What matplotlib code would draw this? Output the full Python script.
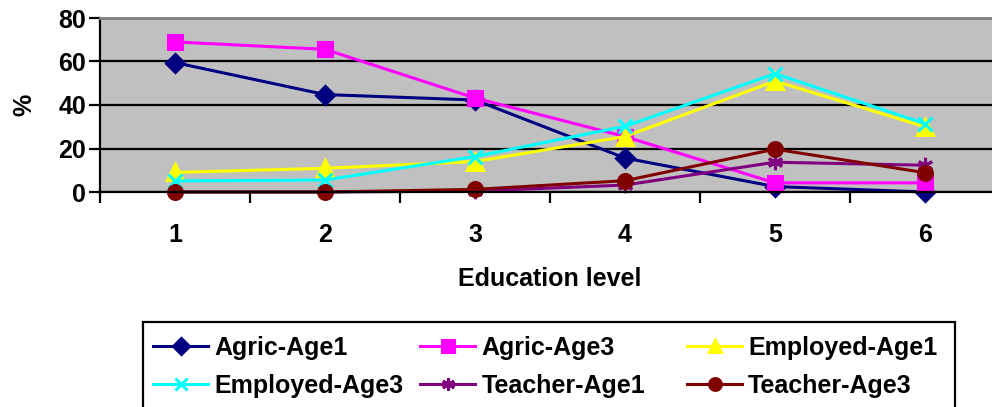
import numpy as np
import matplotlib.pyplot as plt
from matplotlib.patches import Rectangle

plt.rcParams['font.family'] = ['Liberation Sans', 'DejaVu Sans']
plt.rcParams['font.weight'] = 'bold'

# education levels and the share (%) in each group
levels = [1, 2, 3, 4, 5, 6]
agric_age1 = [59.5, 44.8, 42.3, 15.6, 2.5, 0.0]
agric_age3 = [69.0, 65.6, 43.2, 25.5, 4.2, 4.2]
employed_age1 = [9.0, 10.9, 14.0, 25.5, 51.0, 30.0]
employed_age3 = [5.1, 5.5, 16.3, 30.2, 54.4, 31.4]
teacher_age1 = [0.0, 0.0, 0.4, 3.2, 13.7, 12.3]
teacher_age3 = [0.0, 0.0, 1.2, 5.2, 19.7, 8.9]

series = [
    ("Agric-Age1", agric_age1, "#000080", "D", 9),
    ("Agric-Age3", agric_age3, "#FF00FF", "s", 10),
    ("Employed-Age1", employed_age1, "#FFFF00", "^", 11),
    ("Employed-Age3", employed_age3, "#00FFFF", "x", 10),
    ("Teacher-Age1", teacher_age1, "#800080", (6, 2, 0), 11),
    ("Teacher-Age3", teacher_age3, "#800000", "o", 10),
]

FS = 18
W, H = 992, 407

fig = plt.figure(figsize=(W / 100, H / 100), dpi=100)
ax = fig.add_axes([100 / W, (H - 192) / H, 900 / W, 174 / H])
ax.set_facecolor("#C0C0C0")

lines = []
for name, vals, col, mk, ms in series:
    ln, = ax.plot(levels, vals, color=col, lw=2.2, marker=mk, ms=ms,
                  mec=col, mfc=col, mew=2.2, label=name, clip_on=False)
    lines.append(ln)

ax.set_xlim(0.5, 6.5)
ax.set_ylim(0, 80)
ax.set_yticks([0, 20, 40, 60, 80])
ax.set_xticks(levels)
ax.set_xticks(np.arange(0.5, 7, 1), minor=True)
ax.yaxis.grid(True, color="black", lw=1.6)
ax.set_axisbelow(True)
ax.tick_params(axis="x", which="major", length=0, pad=22, labelsize=FS)
ax.tick_params(axis="x", which="minor", length=8, width=1.6, direction="out")
ax.tick_params(axis="y", length=8, width=1.6, pad=2, labelsize=FS)

for s in ["left", "bottom"]:
    ax.spines[s].set_linewidth(1.6)
ax.spines["top"].set_color("#808080")
ax.spines["top"].set_linewidth(2)
ax.spines["right"].set_visible(False)

ax.set_xlabel("Education level", fontsize=FS, fontweight="bold", labelpad=15)
ax.set_ylabel("%", fontsize=FS, fontweight="bold", labelpad=16)

# legend frame, running off the bottom edge
fig.patches.append(Rectangle((143 / W, -0.05), 812 / W, (H - 322) / H + 0.05,
                             transform=fig.transFigure, fill=False,
                             edgecolor="black", lw=1.6, clip_on=False))

# three equal-width legend columns, read across rows
col_x = [153, 420, 687]
for c, x in enumerate(col_x):
    idx = [c, c + 3]
    leg = fig.legend([lines[i] for i in idx], [series[i][0] for i in idx],
                     loc="upper left", bbox_to_anchor=(x / W, (H - 336) / H),
                     fontsize=FS, frameon=False, handlelength=2.2,
                     handletextpad=0.25, labelspacing=0.55, borderpad=0,
                     borderaxespad=0, markerscale=0.85)

fig.savefig("out.png", dpi=100)
